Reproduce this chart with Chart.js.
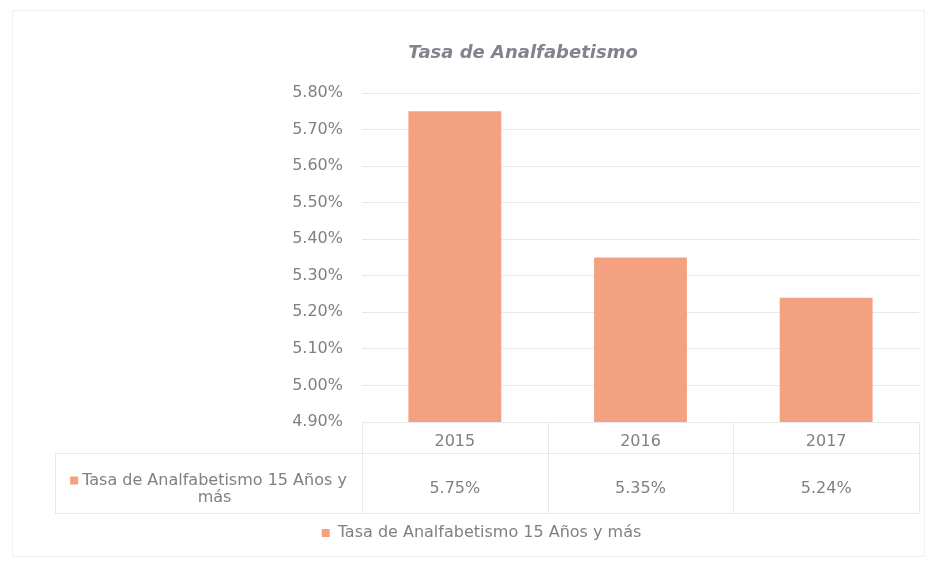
<!DOCTYPE html>
<html lang="es">
<head>
  <meta charset="UTF-8" />
  <title>Tasa de Analfabetismo</title>
  <script src="https://cdn.jsdelivr.net/npm/chart.js"></script>
  <style>
    body {
      margin: 0;
      background-color: #ffffff;
      font-family: 'DejaVu Sans', sans-serif;
    }
    #grafica {
      display: block;
    }
  </style>
</head>
<body>
  <canvas id="grafica" width="935" height="569"></canvas>

  <script>
    // datos
    const categorias = ['2015', '2016', '2017'];
    const valores = [5.75, 5.35, 5.24];
    const nombreSerie = 'Tasa de Analfabetismo 15 Años y más';
    const titulo = 'Tasa de Analfabetismo';
    const ejeMin = 4.9;
    const ejeMax = 5.8;
    const ejePaso = 0.1;

    const colorBarra = '#F4A181';
    const colorTexto = '#808080';
    const colorLinea = '#e8e8e8';
    const fuente = 'DejaVu Sans';

    function formatoPct(v) {
      return v.toFixed(2) + '%';
    }

    // parte el texto en lineas que quepan en el ancho dado
    function partirTexto(ctx, texto, ancho) {
      const palabras = texto.split(' ');
      const lineas = [];
      let actual = '';
      palabras.forEach(p => {
        const prueba = actual ? actual + ' ' + p : p;
        if (ctx.measureText(prueba).width > ancho && actual) {
          lineas.push(actual);
          actual = p;
        } else {
          actual = prueba;
        }
      });
      if (actual) lineas.push(actual);
      return lineas;
    }

    // titulo, marco y tabla de datos debajo del eje, como en Excel
    const tablaDatos = {
      id: 'tablaDatos',
      beforeDraw(chart) {
        const ctx = chart.ctx;
        ctx.save();
        ctx.fillStyle = '#ffffff';
        ctx.fillRect(0, 0, chart.width, chart.height);
        ctx.strokeStyle = '#f0f0f0';
        ctx.lineWidth = 1;
        ctx.strokeRect(12.5, 10.5, 912, 546);

        ctx.fillStyle = '#83838f';
        ctx.font = 'italic bold 18px "' + fuente + '"';
        ctx.textAlign = 'center';
        ctx.textBaseline = 'middle';
        ctx.fillText(titulo, 523, 53);
        ctx.restore();
      },
      afterDraw(chart) {
        const ctx = chart.ctx;
        const a = chart.chartArea;
        const x = chart.scales.x;
        const izq = 55;
        const filaCat = a.bottom;
        const filaVal = a.bottom + 31;
        const fondo = a.bottom + 91;
        const anchoCat = (a.right - a.left) / categorias.length;

        ctx.save();
        ctx.strokeStyle = colorLinea;
        ctx.lineWidth = 1;
        ctx.beginPath();
        ctx.moveTo(izq, filaVal + 0.5); ctx.lineTo(a.right, filaVal + 0.5);
        ctx.moveTo(izq, fondo + 0.5); ctx.lineTo(a.right, fondo + 0.5);
        ctx.moveTo(izq + 0.5, filaVal); ctx.lineTo(izq + 0.5, fondo);
        for (let i = 0; i <= categorias.length; i++) {
          const xl = Math.round(a.left + i * anchoCat) + 0.5;
          ctx.moveTo(xl, filaCat); ctx.lineTo(xl, fondo);
        }
        ctx.stroke();

        // valores
        ctx.fillStyle = colorTexto;
        ctx.font = '16px "' + fuente + '"';
        ctx.textAlign = 'center';
        ctx.textBaseline = 'middle';
        const yVal = (filaVal + fondo) / 2 + 6;
        valores.forEach((v, i) => {
          ctx.fillText(formatoPct(v), x.getPixelForValue(i), yVal);
        });

        // encabezado de la fila con su clave de color
        const lineas = partirTexto(ctx, nombreSerie, 285);
        const altoLinea = 17;
        const centro = (izq + a.left) / 2 + 6;
        const y0 = yVal - (lineas.length - 1) * altoLinea / 2;
        lineas.forEach((l, i) => {
          const yl = y0 + i * altoLinea;
          ctx.fillText(l, centro, yl);
          if (i === 0) {
            const w = ctx.measureText(l).width;
            ctx.fillStyle = colorBarra;
            ctx.fillRect(centro - w / 2 - 12, yl - 4, 8, 8);
            ctx.fillStyle = colorTexto;
          }
        });
        ctx.restore();
      }
    };

    new Chart(document.getElementById('grafica'), {
      type: 'bar',
      data: {
        labels: categorias,
        datasets: [{
          label: nombreSerie,
          data: valores,
          backgroundColor: colorBarra,
          borderWidth: 0,
          categoryPercentage: 1,
          barPercentage: 0.5
        }]
      },
      options: {
        responsive: false,
        animation: false,
        layout: { padding: { top: 93, right: 16, bottom: 18, left: 44 } },
        plugins: {
          title: { display: false },
          legend: {
            position: 'bottom',
            labels: {
              color: colorTexto,
              font: { family: fuente, size: 16 },
              boxWidth: 8,
              boxHeight: 8,
              padding: 12
            }
          },
          tooltip: { enabled: false }
        },
        scales: {
          x: {
            grid: { display: false },
            border: { display: false },
            ticks: {
              color: colorTexto,
              font: { family: fuente, size: 16 },
              padding: 2
            },
            afterFit: s => { s.height = 91; }
          },
          y: {
            min: ejeMin,
            max: ejeMax,
            grid: { color: colorLinea, drawTicks: false },
            border: { display: false },
            ticks: {
              stepSize: ejePaso,
              color: colorTexto,
              font: { family: fuente, size: 16 },
              padding: 19,
              callback: v => formatoPct(v)
            },
            afterFit: s => { s.width = 318; }
          }
        }
      },
      plugins: [tablaDatos]
    });
  </script>
</body>
</html>
